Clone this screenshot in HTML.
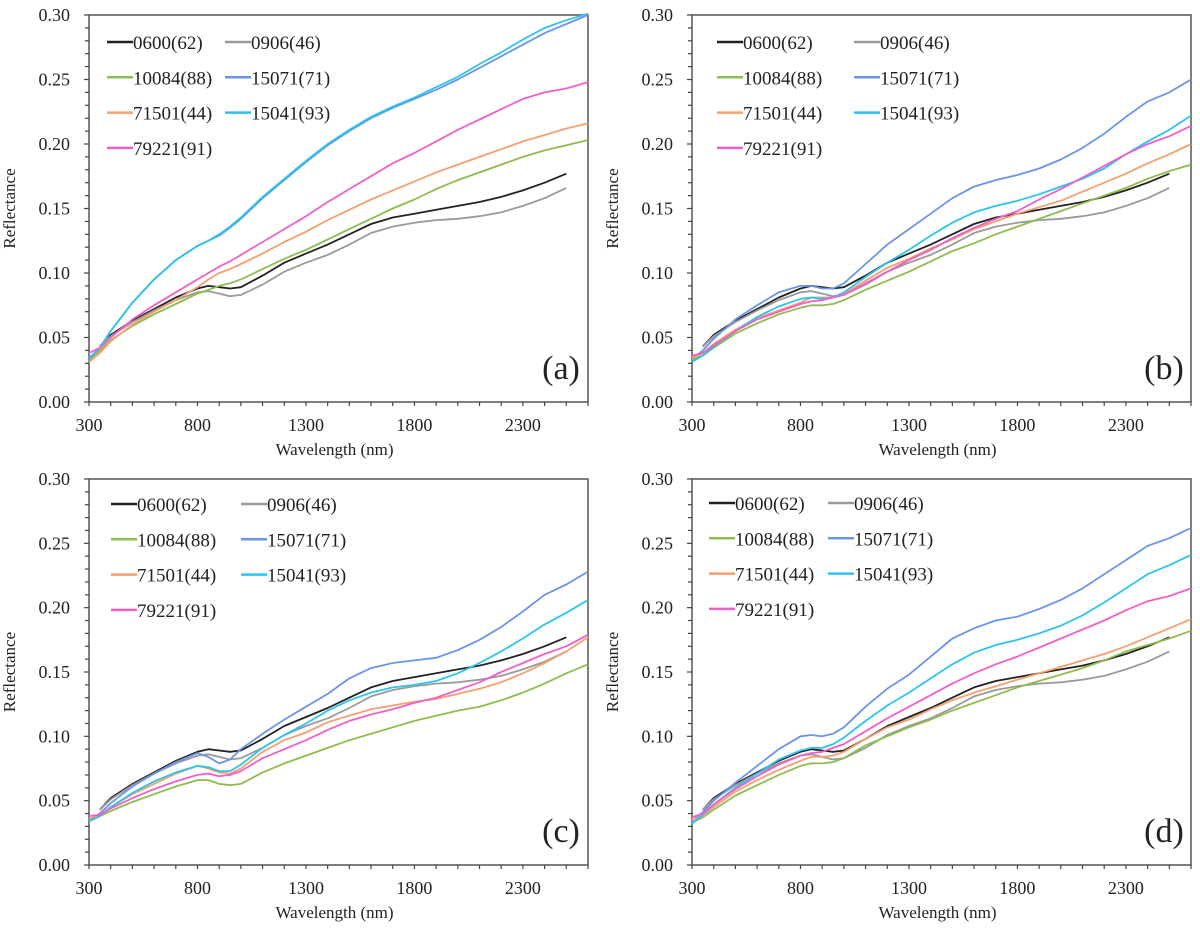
<!DOCTYPE html>
<html><head><meta charset="utf-8"><style>
html,body{margin:0;padding:0;background:#fff;}
svg{display:block;font-family:"Liberation Serif",serif;}
</style></head><body>
<svg id="chart" width="1200" height="930" viewBox="0 0 1200 930" xmlns="http://www.w3.org/2000/svg"></svg>
<script>
const wavelengths=[300,350,400,500,600,700,800,850,900,950,1000,1100,1200,1300,1400,1500,1600,1700,1800,1900,2000,2100,2200,2300,2400,2500,2600];
const seriesNames=["0600(62)","0906(46)","10084(88)","15071(71)","71501(44)","15041(93)","79221(91)"];
const seriesColors=["#222222","#9a9a9a","#8fbc4f","#6a95e8","#f4a070","#2cc4ee","#f060c8"];
const xTicks=[300,800,1300,1800,2300];
const yTicks=[0,0.05,0.10,0.15,0.20,0.25,0.30];
const panelLabels=["(a)","(b)","(c)","(d)"];
const ref0600=[null,.043,.052,.063,.072,.081,.088,.090,.089,.088,.089,.098,.108,.115,.122,.130,.138,.143,.146,.149,.152,.155,.159,.164,.170,.177,null];
const ref0906=[null,.043,.051,.062,.071,.079,.085,.086,.084,.082,.083,.091,.101,.108,.114,.122,.131,.136,.139,.141,.142,.144,.147,.152,.158,.166,null];
const aGreen=[.032,.040,.048,.059,.068,.076,.084,.087,.090,.092,.095,.103,.111,.118,.126,.134,.142,.150,.157,.165,.172,.178,.184,.190,.195,.199,.203];
const aBlue=[.033,.042,.055,.077,.095,.110,.121,.125,.129,.135,.142,.158,.172,.186,.199,.210,.220,.228,.235,.242,.250,.259,.268,.277,.286,.293,.300];
const aOrange=[.031,.038,.047,.060,.070,.079,.089,.095,.100,.103,.107,.115,.124,.132,.141,.149,.157,.164,.171,.178,.184,.190,.196,.202,.207,.212,.216];
const aCyan=[.034,.042,.055,.077,.095,.110,.121,.125,.130,.136,.143,.159,.173,.187,.200,.211,.221,.229,.236,.244,.252,.262,.271,.281,.290,.296,.301];
const aPink=[.038,.042,.050,.064,.075,.085,.095,.100,.105,.109,.114,.124,.134,.144,.155,.165,.175,.185,.193,.202,.211,.219,.227,.235,.240,.243,.248];
const bGreen=[.033,.036,.042,.053,.061,.068,.073,.075,.075,.076,.079,.087,.094,.101,.109,.117,.123,.130,.136,.142,.148,.154,.160,.166,.173,.179,.184];
const bBlue=[.033,.040,.049,.064,.075,.085,.090,.090,.088,.088,.092,.107,.122,.134,.146,.158,.167,.172,.176,.181,.188,.197,.208,.221,.233,.240,.250];
const bOrange=[.034,.038,.045,.056,.065,.071,.077,.081,.081,.081,.084,.094,.104,.111,.119,.126,.134,.140,.146,.151,.156,.163,.170,.177,.185,.192,.200];
const bCyan=[.031,.036,.043,.055,.066,.074,.080,.081,.080,.081,.085,.097,.108,.118,.129,.139,.147,.152,.156,.161,.167,.173,.181,.192,.202,.211,.222];
const bPink=[.036,.038,.044,.055,.064,.070,.076,.078,.079,.081,.083,.092,.101,.110,.118,.127,.135,.142,.148,.157,.165,.174,.183,.192,.200,.206,.214];
const cGreen=[.034,.038,.042,.049,.055,.061,.066,.066,.063,.062,.063,.072,.079,.085,.091,.097,.102,.107,.112,.116,.120,.123,.128,.134,.141,.149,.156];
const cBlue=[.034,.040,.048,.061,.071,.080,.087,.084,.079,.082,.090,.102,.113,.123,.133,.145,.153,.157,.159,.161,.167,.175,.185,.197,.210,.218,.228];
const cOrange=[.036,.039,.045,.055,.063,.071,.077,.075,.072,.071,.075,.088,.097,.103,.111,.116,.121,.124,.127,.129,.133,.137,.142,.149,.157,.166,.177];
const cCyan=[.034,.038,.045,.056,.065,.072,.077,.076,.073,.073,.078,.091,.101,.110,.120,.128,.134,.138,.140,.143,.149,.157,.166,.176,.187,.196,.206];
const cPink=[.038,.039,.044,.052,.059,.065,.070,.071,.069,.070,.073,.083,.090,.097,.105,.112,.117,.121,.126,.130,.136,.142,.150,.157,.164,.170,.179];
const dGreen=[.033,.037,.043,.054,.062,.070,.077,.079,.079,.080,.083,.093,.100,.107,.113,.120,.126,.132,.138,.143,.148,.153,.159,.166,.171,.176,.182];
const dBlue=[.034,.041,.050,.064,.077,.090,.100,.101,.100,.102,.107,.123,.137,.148,.162,.176,.184,.190,.193,.199,.206,.215,.226,.237,.248,.254,.262];
const dOrange=[.035,.038,.045,.057,.066,.074,.081,.084,.084,.085,.088,.098,.107,.113,.121,.128,.134,.139,.144,.149,.154,.159,.164,.170,.177,.184,.191];
const dCyan=[.032,.039,.047,.060,.071,.082,.089,.091,.091,.094,.099,.112,.124,.134,.145,.156,.165,.171,.175,.180,.186,.194,.204,.215,.226,.233,.241];
const dPink=[.037,.040,.047,.059,.069,.078,.085,.087,.088,.091,.094,.104,.114,.123,.132,.141,.149,.156,.162,.169,.176,.183,.190,.198,.205,.209,.215];

const panelSeries=[
 [ref0600,ref0906,aGreen,aBlue,aOrange,aCyan,aPink],
 [ref0600,ref0906,bGreen,bBlue,bOrange,bCyan,bPink],
 [ref0600,ref0906,cGreen,cBlue,cOrange,cCyan,cPink],
 [ref0600,ref0906,dGreen,dBlue,dOrange,dCyan,dPink]
];
const layout=[
 {x0:89,x1:588,y0:15,y1:402,lx:107,lx2:225,ly:42},
 {x0:692,x1:1191,y0:15,y1:402,lx:717,lx2:854,ly:42},
 {x0:89,x1:588,y0:479,y1:865,lx:111,lx2:241,ly:504},
 {x0:692,x1:1191,y0:479,y1:865,lx:709,lx2:828,ly:503}
];
const svg=document.getElementById('chart');
const NS="http://www.w3.org/2000/svg";
function mk(tag,attrs,parent){const e=document.createElementNS(NS,tag);for(const k in attrs)e.setAttribute(k,attrs[k]);parent.appendChild(e);return e;}

layout.forEach((L,pi)=>{
 const g=mk('g',{},svg);
 
 
 const xs=v=>L.x0+(v-300)/2300*(L.x1-L.x0);
 const ys=v=>L.y1-v/0.30*(L.y1-L.y0);
 // frame
 const fr=mk('path',{d:`M${L.x0},${L.y1}L${L.x0},${L.y0}L${L.x1},${L.y0}L${L.x1},${L.y1}Z`,fill:'none',stroke:'#555',"stroke-width":1.5},g);
 
 
 // minor ticks
 for(let w=300;w<=2600;w+=100){
  const t=mk('line',{x1:xs(w),x2:xs(w),y1:L.y1,y2:L.y1+4,stroke:'#444',"stroke-width":1.2},g);
  
  
 }
 for(let k=0;k<=30;k++){
  const v=k/100;
  const t=mk('line',{x1:L.x0-(k%5===0?5:4),x2:L.x0,y1:ys(v),y2:ys(v),stroke:'#444',"stroke-width":1.2},g);
  
  
 }
 xTicks.forEach(v=>{
  const t=mk('text',{x:xs(v),y:L.y1+29,"text-anchor":"middle","font-size":18,fill:'#222'},g);
  t.textContent=v;
  
  
 });
 yTicks.forEach(v=>{
  const t=mk('text',{x:L.x0-19,y:ys(v)+6,"text-anchor":"end","font-size":18,fill:'#222'},g);
  t.textContent=v.toFixed(2);
  
  
 });
 const xt=mk('text',{x:(L.x0+L.x1)/2-4,y:L.y1+53,"text-anchor":"middle","font-size":17,fill:'#222'},g);
 xt.textContent='Wavelength  (nm)';
 
 
 const yc=(L.y0+L.y1)/2;
 const xl=L.x0-74;
 const yt=mk('text',{x:xl,y:yc,"text-anchor":"middle","font-size":17,fill:'#222',transform:`rotate(-90 ${xl} ${yc})`},g);
 yt.textContent='Reflectance';
 
 
 // series
 panelSeries[pi].forEach((vals,si)=>{
  let d='';let started=false;
  vals.forEach((v,i)=>{if(v===null)return;d+=(started?'L':'M')+xs(wavelengths[i]).toFixed(1)+','+ys(v).toFixed(1);started=true;});
  const p=mk('path',{d:d,fill:'none',stroke:seriesColors[si],"stroke-width":1.8,"stroke-linejoin":"round"},g);
  
  
 });
 // legend
 seriesNames.forEach((n,si)=>{
  const col=si%2, row=Math.floor(si/2);
  const lx=col===0?L.lx:L.lx2;
  const ly=L.ly+row*35.3;
  const ln=mk('line',{x1:lx,x2:lx+26,y1:ly,y2:ly,stroke:seriesColors[si],"stroke-width":2.5},g);
  
  
  const t=mk('text',{x:lx+26,y:ly+7,"font-size":19,fill:'#222'},g);
  t.textContent=n;
  
  
 });
 const pl=mk('text',{x:L.x1-27,y:L.y1-23,"text-anchor":"middle","font-size":34,fill:'#222'},g);
 pl.textContent=panelLabels[pi];
 
 
});
</script>
</body></html>
